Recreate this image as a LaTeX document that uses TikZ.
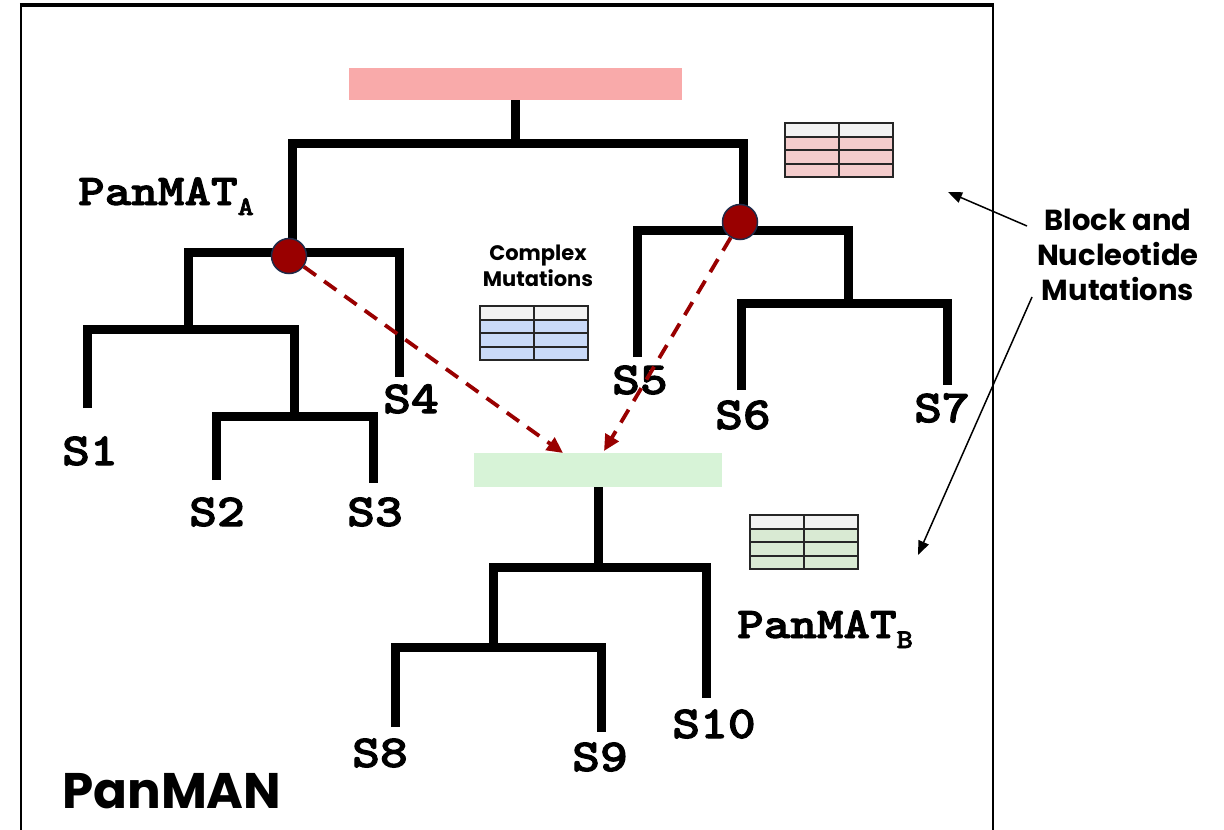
\documentclass[tikz,border=0pt]{standalone}
\usepackage{fontspec}
\usepackage{graphicx}
\usetikzlibrary{arrows.meta}
\newfontfamily\mont{Poppins}
\newfontfamily\cour{lmmonolt10-bold}[Extension=.otf, FakeBold=2]
\definecolor{pk}{HTML}{F9AAAA}
\definecolor{gb}{HTML}{D7F3D7}
\definecolor{dr}{HTML}{990000}
\definecolor{nv}{HTML}{1F2A48}
\definecolor{hd}{HTML}{F2F2F2}
\definecolor{tpk}{HTML}{F4CCCC}
\definecolor{tbl}{HTML}{C9DAF8}
\definecolor{tgn}{HTML}{D9EAD3}
\newcommand{\lab}[1]{\scalebox{1.15}[1]{\cour #1}}

\begin{document}
\begin{tikzpicture}
  [x=1pt, y=-1pt,
   br/.style={line width=9pt, line join=miter},
   mut/.style={circle, fill=dr, draw=nv, line width=1.5pt, minimum size=35pt, inner sep=0pt},
   leaf/.style={inner sep=0pt, font=\fontsize{46}{46}\selectfont},
   tb/.style={draw=black!85, line width=1.8pt}]
  \useasboundingbox (0,0) rectangle (1224,830);
  % frame
  \draw[line width=2.5pt] (21,830) -- (21,5);
  \draw[line width=2pt] (993,5) -- (993,830);
  \draw[line width=4pt] (19.75,5) -- (994,5);

  % top tree (PanMAT A)
  \node[fill=pk, minimum width=333pt, minimum height=32pt, inner sep=0pt]
    (rootA) at (515,84) {};
  \coordinate (j0) at (515,143);
  \coordinate (ja) at (292,252);
  \coordinate (jb) at (743,230);
  \coordinate (jl) at (188,329);
  \coordinate (jm) at (294,416);
  \coordinate (jr) at (848,303);
  \foreach \num/\x/\y in {1/87/408,2/216/480,3/373/483,4/399/377,
                          5/637/357,6/741/390,7/947/385}{
    \coordinate (l\num) at (\x,\y);}
  \draw[br] (rootA.south) -- (j0);
  \draw[br] (ja) |- (j0) -| (jb);
  \draw[br] (jl) |- (ja) -| (l4);
  \draw[br] (l1) |- (jl) -| (jm);
  \draw[br] (l2) |- (jm) -| (l3);
  \draw[br] (l5) |- (jb) -| (jr);
  \draw[br] (l6) |- (jr) -| (l7);

  % bottom tree (PanMAT B)
  \node[fill=gb, minimum width=248pt, minimum height=34pt, inner sep=0pt]
    (rootB) at (598,470) {};
  \coordinate (jc) at (598,567);
  \coordinate (jd) at (493,647);
  \foreach \num/\x/\y in {8/395/727,9/601/732,10/706/698}{
    \coordinate (l\num) at (\x,\y);}
  \draw[br] (rootB.south) -- (jc);
  \draw[br] (jd) |- (jc) -| (l10);
  \draw[br] (l8) |- (jd) -| (l9);

  % leaf labels
  \foreach \num/\x/\y in {1/90/451,2/217/512,3/375/512,4/411/399,5/640/380,
                          6/743/415,7/942/408,8/380/753,9/600/757,10/714/724}{
    \node[leaf] (s\num) at (\x,\y) {\lab{S\num}};}
  \node[anchor=base west, inner sep=0pt, font=\fontsize{44}{44}\selectfont]
    (pa) at (78,205) {\lab{PanMAT}\raisebox{-10pt}{\fontsize{27}{27}\selectfont\lab{A}}};
  \node[anchor=base west, inner sep=0pt, font=\fontsize{44}{44}\selectfont]
    (pb) at (737,638) {\lab{PanMAT}\raisebox{-10pt}{\fontsize{27}{27}\selectfont\lab{B}}};

  % mutation tables
  \foreach \nm/\x/\y/\c in {pink/785/123/tpk, blue/480/306/tbl, green/750/515/tgn}{
    \fill[hd] (\x,\y) rectangle ++(108,14);
    \fill[\c] (\x,\y+14) rectangle ++(108,40);
    \foreach \r in {14,27.3,40.7}
      \draw[tb] (\x,\y+\r) -- ++(108,0);
    \draw[tb] (\x+54,\y) -- ++(0,54);
    \draw[tb] (\x,\y) rectangle ++(108,54);}

  % complex mutations
  \node[mut] (na) at (289,256) {};
  \node[mut] (nb) at (740,222) {};
  \coordinate (ha) at (563,453);
  \coordinate (hb) at (604,451);
  \draw[dr, line width=3.8pt, dash pattern=on 15pt off 10pt,
        -{Triangle[length=16pt, width=15pt]}] (na) -- (ha);
  \draw[dr, line width=3.8pt, dash pattern=on 15pt off 10pt,
        -{Triangle[length=16pt, width=15pt]}] (nb) -- (hb);
  \node[anchor=north, inner sep=0pt, align=center,
        font=\mont\bfseries\fontsize{21}{26}\selectfont]
    (cm) at (538,245) {Complex\\Mutations};

  % block and nucleotide mutations
  \node[anchor=north, inner sep=0pt, align=center,
        font=\mont\bfseries\fontsize{29}{35}\selectfont]
    (bnm) at (1118,209) {Block and\\Nucleotide\\Mutations};
  \coordinate (c1) at (1027,226);
  \coordinate (c2) at (1032,297);
  \coordinate (p1) at (948,192);
  \coordinate (p2) at (918,555);
  \draw[line width=1.5pt, -{Triangle[length=14pt, width=11pt]}] (c1) -- (p1);
  \draw[line width=1.5pt, -{Triangle[length=14pt, width=11pt]}] (c2) -- (p2);

  \node[anchor=base west, inner sep=0pt, font=\mont\bfseries\fontsize{50}{50}\selectfont]
    (title) at (62,808) {PanMAN};
\end{tikzpicture}
\end{document}
